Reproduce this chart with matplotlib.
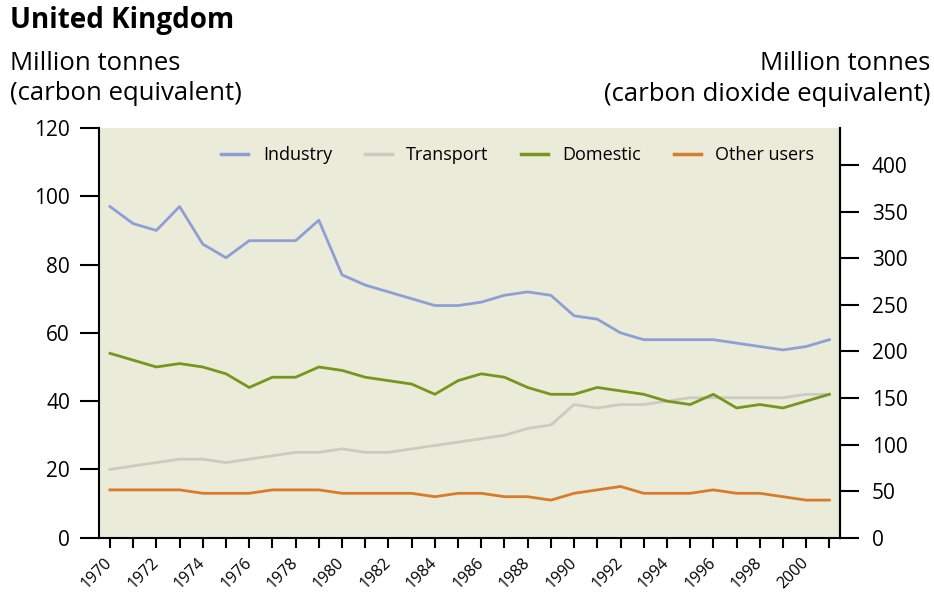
import matplotlib
matplotlib.use('Agg')
import matplotlib.pyplot as plt

plt.rcParams['font.family'] = ['Open Sans', 'DejaVu Sans']

# Emissions by end user, million tonnes carbon equivalent
years = list(range(1970, 2002))
industry = [97, 92, 90, 97, 86, 82, 87, 87, 87, 93, 77, 74, 72, 70, 68, 68,
            69, 71, 72, 71, 65, 64, 60, 58, 58, 58, 58, 57, 56, 55, 56, 58]
transport = [20, 21, 22, 23, 23, 22, 23, 24, 25, 25, 26, 25, 25, 26, 27, 28,
             29, 30, 32, 33, 39, 38, 39, 39, 40, 41, 41, 41, 41, 41, 42, 42]
domestic = [54, 52, 50, 51, 50, 48, 44, 47, 47, 50, 49, 47, 46, 45, 42, 46,
            48, 47, 44, 42, 42, 44, 43, 42, 40, 39, 42, 38, 39, 38, 40, 42]
other_users = [14, 14, 14, 14, 13, 13, 13, 14, 14, 14, 13, 13, 13, 13, 12, 13,
               13, 12, 12, 11, 13, 14, 15, 13, 13, 13, 14, 13, 13, 12, 11, 11]

series_names = ['Industry', 'Transport', 'Domestic', 'Other users']
colors = ['#8e9fd6', '#cdcac2', '#76961c', '#d97a2c']

fig = plt.figure(figsize=(9.34, 5.93), dpi=100)
ax = fig.add_axes([0.1063, 0.0933, 0.7931, 0.6908])
ax.set_facecolor('#ebebd9')

for vals, name, c in zip([industry, transport, domestic, other_users], series_names, colors):
    ax.plot(years, vals, color=c, lw=2.0, label=name)

ax.set_xlim(1969.54, 2001.46)
ax.set_ylim(0, 120)
ax.set_yticks(range(0, 121, 20))
ax.set_xticks(years)
ax.set_xticklabels([str(y) if y % 2 == 0 else '' for y in years],
                   rotation=45, ha='right', va='center', rotation_mode='anchor', fontsize=11.5)
ax.tick_params(axis='y', length=14, width=1.5, labelsize=15, pad=7)
ax.tick_params(axis='x', length=7, width=1.5, pad=9)
ax.spines['top'].set_visible(False)
for s in ['left', 'bottom', 'right']:
    ax.spines[s].set_linewidth(1.5)

# right axis: carbon dioxide equivalent (x 44/12)
ax2 = ax.twinx()
ax2.set_ylim(0, 120 * 44 / 12)
ax2.set_yticks(range(0, 401, 50))
ax2.tick_params(axis='y', length=14, width=1.5, labelsize=15, pad=9)
ax2.spines['top'].set_visible(False)
ax2.spines['right'].set_linewidth(1.5)
ax2.spines['left'].set_visible(False)
ax2.spines['bottom'].set_visible(False)

leg = ax.legend(loc='upper center', bbox_to_anchor=(0.565, 0.995), ncol=4, frameon=False,
                fontsize=13, handlelength=1.5, columnspacing=1.8, handletextpad=0.8)
for line in leg.get_lines():
    line.set_linewidth(2.5)

fig.text(0.011, 0.966, 'United Kingdom', fontsize=20, fontweight='bold', va='center', ha='left')
fig.text(0.011, 0.893, 'Million tonnes', fontsize=18.5, va='center', ha='left')
fig.text(0.011, 0.843, '(carbon equivalent)', fontsize=18.5, va='center', ha='left')
fig.text(0.996, 0.893, 'Million tonnes', fontsize=18.5, va='center', ha='right')
fig.text(0.996, 0.840, '(carbon dioxide equivalent)', fontsize=18.5, va='center', ha='right')

fig.savefig('out.png', dpi=100)
